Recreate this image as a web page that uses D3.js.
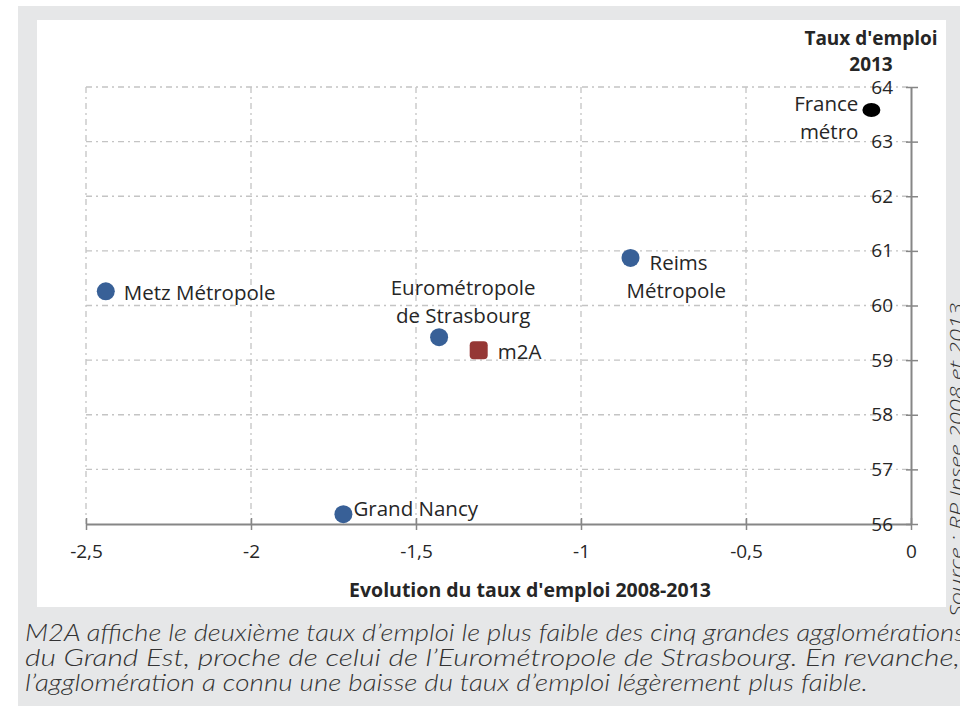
<!DOCTYPE html>
<html>
<head>
<meta charset="utf-8">
<script src="https://cdn.jsdelivr.net/npm/d3@7"></script>
<style>
  body { margin: 0; background: #fff; }
  svg { display: block; }
</style>
</head>
<body>
<svg id="chart" width="960" height="707"></svg>
<script>
// data
const names = ["France métro", "Metz Métropole", "Eurométropole de Strasbourg", "m2A", "Reims Métropole", "Grand Nancy"];
const evolution = [-0.12, -2.44, -1.43, -1.31, -0.85, -1.72];
const taux = [63.58, 60.26, 59.42, 59.18, 60.87, 56.18];
const xTicks = [-2.5, -2, -1.5, -1, -0.5, 0];
const yTicks = [56, 57, 58, 59, 60, 61, 62, 63, 64];
const caption = [
  "M2A affiche le deuxième taux d’emploi le plus faible des cinq grandes agglomérations",
  "du Grand Est, proche de celui de l’Eurométropole de Strasbourg. En revanche,",
  "l’agglomération a connu une baisse du taux d’emploi légèrement plus faible."
];
const captionWidth = [940, 935, 843];

const svg = d3.select("#chart");
const font = "'Open Sans', sans-serif";
const capFont = "Lato, 'Open Sans', sans-serif";
const blue = "#386097";
const ink = "#262626";

// grey frame + white panel
svg.append("rect").attr("x", 18).attr("y", 6).attr("width", 960).attr("height", 700).attr("fill", "#e6e7e8");
svg.append("rect").attr("x", 37).attr("y", 20).attr("width", 909).attr("height", 587).attr("fill", "#fff");

const x = d3.scaleLinear().domain([-2.5, 0]).range([86, 911]);
const y = d3.scaleLinear().domain([56, 64]).range([524, 87]);

// gridlines (dash-dot)
const grid = svg.append("g").attr("stroke", "#c4c4c4").attr("stroke-width", 1.3).attr("stroke-dasharray", "6,4,2,4");
grid.selectAll(".gx").data(xTicks.filter(d => d !== 0)).enter().append("line")
  .attr("x1", d => x(d)).attr("x2", d => x(d)).attr("y1", y(64)).attr("y2", y(56));
grid.selectAll(".gy").data(yTicks.filter(d => d !== 56)).enter().append("line")
  .attr("x1", x(-2.5)).attr("x2", x(0)).attr("y1", d => y(d)).attr("y2", d => y(d));

const fmt = d => String(d).replace(".", ",");

// x axis
const xAxis = svg.append("g").attr("transform", `translate(0,${y(56)})`)
  .call(d3.axisBottom(x).tickValues(xTicks).tickSize(6).tickSizeOuter(0).tickFormat(fmt));
xAxis.select(".domain").attr("stroke", "#868686").attr("stroke-width", 2);
xAxis.selectAll(".tick line").attr("stroke", "#868686").attr("stroke-width", 1.5).attr("y1", -6);
xAxis.selectAll(".tick text").attr("y", 21).attr("font-family", font).attr("font-size", 19).attr("fill", ink);

// y axis on the right at x=0, labels on the left
const yAxis = svg.append("g").attr("transform", `translate(${x(0)},0)`)
  .call(d3.axisLeft(y).tickValues(yTicks).tickSize(6).tickSizeOuter(0).tickFormat(fmt));
yAxis.select(".domain").attr("stroke", "#868686").attr("stroke-width", 2);
yAxis.selectAll(".tick line").attr("stroke", "#868686").attr("stroke-width", 1.5).attr("x1", 7).attr("x2", -5);
yAxis.selectAll(".tick text").attr("x", -18).attr("font-family", font).attr("font-size", 19).attr("fill", ink);

// axis titles
svg.append("text").attr("x", 530).attr("y", 597).attr("text-anchor", "middle")
  .attr("font-family", font).attr("font-weight", "bold").attr("font-size", 19.5).attr("fill", ink)
  .text("Evolution du taux d'emploi 2008-2013");
const yt = svg.append("text").attr("text-anchor", "middle")
  .attr("font-family", font).attr("font-weight", "bold").attr("font-size", 19).attr("fill", ink);
yt.append("tspan").attr("x", 871).attr("y", 45).text("Taux d'emploi");
yt.append("tspan").attr("x", 871).attr("y", 71).text("2013");

// points
const pts = names.map((n, i) => ({ name: n, ex: evolution[i], tx: taux[i] }));
const marks = svg.append("g");
pts.forEach(p => {
  const cx = x(p.ex), cy = y(p.tx);
  if (p.name === "m2A") {
    marks.append("rect").attr("x", cx - 9).attr("y", cy - 9).attr("width", 18).attr("height", 18)
      .attr("rx", 4).attr("fill", "#953735");
  } else if (p.name === "France métro") {
    marks.append("ellipse").attr("cx", cx).attr("cy", cy).attr("rx", 9).attr("ry", 7).attr("fill", "#000");
  } else {
    marks.append("circle").attr("cx", cx).attr("cy", cy).attr("r", 9).attr("fill", blue);
  }
});

// labels: [lines, dx, dy of first line, anchor]
const labelPos = {
  "France métro": [["France", "métro"], -13, 1, "end"],
  "Metz Métropole": [["Metz Métropole"], 18, 9, "start"],
  "Eurométropole de Strasbourg": [["Eurométropole", "de Strasbourg"], 24, -42, "middle"],
  "m2A": [["m2A"], 19, 9, "start"],
  "Reims Métropole": [["Reims", "Métropole"], 19, 12, "start"],
  "Grand Nancy": [["Grand Nancy"], 10, 2, "start"]
};
pts.forEach(p => {
  const [lines, dx, dy, anchor] = labelPos[p.name];
  const t = svg.append("text").attr("font-family", font).attr("font-size", 20.5).attr("fill", ink)
    .attr("text-anchor", anchor);
  lines.forEach((l, i) => {
    let lx = x(p.ex) + dx;
    if (p.name === "Reims Métropole" && i === 1) lx = x(p.ex) - 4;
    t.append("tspan").attr("x", lx).attr("y", y(p.tx) + dy + i * 28).text(l);
  });
});

// source, rotated on the right edge
svg.append("text").attr("transform", "translate(963,617) rotate(-90)")
  .attr("font-family", font).attr("font-style", "italic").attr("font-weight", 300)
  .attr("font-size", 19).attr("fill", "#333")
  .attr("textLength", 314).attr("lengthAdjust", "spacingAndGlyphs")
  .text("Source : RP Insee 2008 et 2013");

// caption
caption.forEach((c, i) => {
  svg.append("text").attr("font-family", capFont).attr("font-style", "italic").attr("font-weight", 300)
    .attr("font-size", 23).attr("fill", "#333")
    .attr("x", 25).attr("y", 641 + i * 25)
    .attr("textLength", captionWidth[i]).attr("lengthAdjust", "spacingAndGlyphs")
    .text(c);
});
</script>
</body>
</html>
